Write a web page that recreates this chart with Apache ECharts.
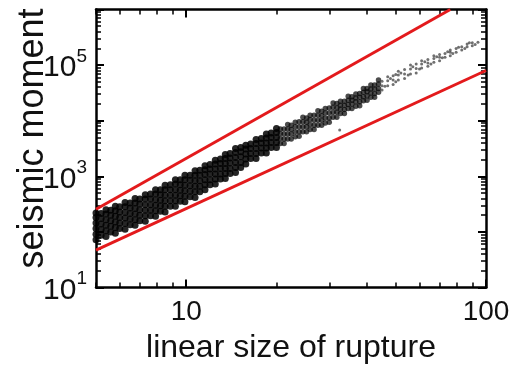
<!DOCTYPE html>
<html><head><meta charset="utf-8">
<script src="https://cdn.jsdelivr.net/npm/echarts@6/dist/echarts.min.js"></script>
<style>html,body{margin:0;padding:0;background:#fff}#c{width:522px;height:369px}</style>
</head><body><div id="c"></div>
<script>
const FONT = 'Liberation Sans, Arial, Helvetica, sans-serif';

// axis ticks and labels
const xMajorTicks = [10, 100];
const xMinorTicks = [5, 6, 7, 8, 9, 20, 30, 40, 50, 60, 70, 80, 90];
const xTickLabels = [10, 100];
const yMajorTicks = [10, 100, 1000, 10000, 100000, 1000000];
const yMinorTicks = [20, 30, 40, 50, 60, 70, 80, 90,
  200, 300, 400, 500, 600, 700, 800, 900,
  2000, 3000, 4000, 5000, 6000, 7000, 8000, 9000,
  20000, 30000, 40000, 50000, 60000, 70000, 80000, 90000,
  200000, 300000, 400000, 500000, 600000, 700000, 800000, 900000];
const yTickLabels = [10, 1000, 100000];

// red bounding lines [linear size, seismic moment]
const upperLine = [[5, 255], [76, 1000000]];
const lowerLine = [[5, 47], [100, 80000]];

// scatter cloud [linear size, seismic moment]
const denseCloud = [
[5.0,72],[5.0,91],[5.0,115],[5.0,145],[5.0,182],[5.0,219],
[5.2,87],[5.2,110],[5.2,138],[5.2,174],[5.2,214],
[5.4,83],[5.4,105],[5.4,132],[5.4,166],[5.4,209],[5.4,251],
[5.6,100],[5.6,126],[5.6,158],[5.6,200],[5.6,245],
[5.8,95],[5.8,120],[5.8,151],[5.8,191],[5.8,240],[5.8,288],
[6.0,115],[6.0,145],[6.0,182],[6.0,229],[6.0,282],
[6.25,112],[6.25,141],[6.25,178],[6.25,224],[6.25,282],[6.25,339],
[6.5,135],[6.5,170],[6.5,214],[6.5,269],[6.5,331],
[6.75,132],[6.75,166],[6.75,209],[6.75,263],[6.75,331],[6.75,398],
[7.0,158],[7.0,200],[7.0,251],[7.0,316],[7.0,389],
[7.3,155],[7.3,195],[7.3,245],[7.3,309],[7.3,389],[7.3,468],
[7.6,195],[7.6,245],[7.6,309],[7.6,389],[7.6,479],
[7.9,191],[7.9,240],[7.9,302],[7.9,380],[7.9,479],[7.9,575],
[8.2,234],[8.2,295],[8.2,372],[8.2,468],[8.2,575],
[8.5,229],[8.5,288],[8.5,363],[8.5,457],[8.5,575],[8.5,692],
[8.85,288],[8.85,363],[8.85,457],[8.85,575],[8.85,708],
[9.2,288],[9.2,363],[9.2,457],[9.2,575],[9.2,724],[9.2,871],
[9.55,355],[9.55,447],[9.55,562],[9.55,708],[9.55,871],
[9.9,347],[9.9,437],[9.9,550],[9.9,692],[9.9,871],[9.9,1047],
[10.3,427],[10.3,537],[10.3,676],[10.3,851],[10.3,1047],
[10.7,417],[10.7,525],[10.7,661],[10.7,832],[10.7,1047],[10.7,1259],
[11.1,525],[11.1,661],[11.1,832],[11.1,1047],[11.1,1288],
[11.55,575],[11.55,708],[11.55,871],[11.55,1072],[11.55,1318],[11.55,1549],
[12.0,708],[12.0,871],[12.0,1096],[12.0,1349],[12.0,1622],
[12.5,724],[12.5,891],[12.5,1096],[12.5,1349],[12.5,1660],[12.5,1950],
[13.0,891],[13.0,1096],[13.0,1380],[13.0,1698],[13.0,2042],
[13.5,912],[13.5,1122],[13.5,1380],[13.5,1698],[13.5,2089],[13.5,2455],
[14.0,1122],[14.0,1380],[14.0,1738],[14.0,2138],[14.0,2570],
[14.6,1175],[14.6,1445],[14.6,1778],[14.6,2188],[14.6,2692],[14.6,3162],
[15.2,1445],[15.2,1778],[15.2,2239],[15.2,2754],[15.2,3311],
[15.8,1660],[15.8,2042],[15.8,2512],[15.8,3090],[15.8,3631],
[16.4,2089],[16.4,2570],[16.4,3162],[16.4,3802],
[17.1,2089],[17.1,2570],[17.1,3162],[17.1,3890],[17.1,4571],
[17.8,2630],[17.8,3236],[17.8,3981],[17.8,4786],
[18.5,2630],[18.5,3236],[18.5,3981],[18.5,4898],[18.5,5754],
[19.2,3311],[19.2,4074],[19.2,5012],[19.2,6026],
[20.0,3311],[20.0,4074],[20.0,5012],[20.0,6166],[20.0,7244]
];
const midCloud = [
[20.6,3890],[20.6,4786],[20.6,5888],[20.6,7079],
[21.2,3890],[21.2,4677],[21.2,5754],[21.2,7079],
[21.8,4677],[21.8,5754],[21.8,7079],[21.8,8511],
[22.4,4677],[22.4,5754],[22.4,6918],[22.4,8318],
[23.1,5129],[23.1,6310],[23.1,7762],[23.1,9333],
[23.8,5248],[23.8,6310],[23.8,7762],[23.8,9550],
[24.5,6310],[24.5,7762],[24.5,9550],[24.5,11480],
[25.2,6310],[25.2,7762],[25.2,9333],[25.2,11220],
[25.9,6918],[25.9,8511],[25.9,10470],[25.9,12590],
[26.7,6918],[26.7,8318],[26.7,10230],[26.7,12590],
[27.5,8318],[27.5,10230],[27.5,12590],[27.5,15140],
[28.3,8318],[28.3,10230],[28.3,12300],[28.3,14790],
[29.1,9120],[29.1,11220],[29.1,13800],[29.1,16600],
[30.0,9333],[30.0,11220],[30.0,13800],[30.0,16980],
[30.9,11480],[30.9,14130],[30.9,17380],[30.9,20890],
[31.8,11480],[31.8,14130],[31.8,16980],[31.8,20420],
[32.7,13490],[32.7,16220],[32.7,19050],[32.7,22390],
[33.7,13490],[33.7,15850],[33.7,19050],[33.7,22390],
[34.7,16600],[34.7,19500],[34.7,23440],[34.7,27540],
[35.7,16600],[35.7,19950],[35.7,23440],[35.7,26920],
[36.8,18200],[36.8,21880],[36.8,25700],[36.8,30200],
[37.9,18620],[37.9,21880],[37.9,26300],[37.9,30900],
[39.0,22910],[39.0,26920],[39.0,32360],[39.0,38020],
[40.1,23440],[40.1,28180],[40.1,33110],[40.1,38020],
[41.3,26300],[41.3,31620],[41.3,37150],[41.3,43650],
[42.5,26300],[42.5,30900],[42.5,37150],[42.5,43650],
[43.8,32360],[43.8,38020],[43.8,45710],[43.8,53700]
];
const sparseCloud = [
[32.5,6800],
[45,35480],[45,42660],[45,51290],[46,41690],
[47,42660],[47,52480],[47,61660],[48,57540],
[49,44670],[49,53700],[49,64570],[50,50120],[50,67610],
[51,53700],[51,66070],[51,77620],[52,72440],
[53.5,57540],[53.5,69180],[53.5,83180],[55,66070],
[56,69180],[56,85110],[56,100000],[57,93330],
[58.5,72440],[58.5,87100],[58.5,104700],[60,85110],
[61,89130],[61,104700],[61,120200],[62.5,114800],
[64,95500],[64,109600],[64,125900],[65.5,104700],
[67,112200],[67,131800],[67,147900],[68.5,141300],
[70,120200],[70,138000],[70,154900],[71.5,134900],
[73,138000],[73,162200],[74.5,173800],
[76,147900],[76,169800],[76,186200],[77.5,162200],
[79.5,169800],[79.5,199500],[81,208900],
[83,186200],[83,213800],[85,199500],
[86.5,213800],[86.5,239900],[88,251200],
[90,223900],[90,251200],[92,234400],
[94,257000]
];

const chart = echarts.init(document.getElementById('c'), null, {renderer: 'canvas'});

function xAx(position, ticks, len, withLine, withLabels) {
  const a = {
    type: 'log', logBase: 10, min: 5, max: 100, position: position, gridIndex: 0,
    axisLine: {show: withLine, onZero: false, lineStyle: {color: '#000', width: 2.5}},
    axisTick: {show: true, inside: true, length: len, customValues: ticks,
      lineStyle: {color: '#000', width: len > 6 ? 2 : 1.5}},
    axisLabel: {show: false},
    splitLine: {show: false}, minorTick: {show: false}, minorSplitLine: {show: false}
  };
  if (withLabels) {
    a.axisLabel = {show: true, customValues: xTickLabels, margin: 11, color: '#111',
      fontFamily: FONT, fontSize: 28, formatter: v => String(Math.round(v))};
    a.name = 'linear size of rupture';
    a.nameLocation = 'middle';
    a.nameGap = 45;
    a.nameMoveOverlap = false;
    a.nameTextStyle = {fontFamily: FONT, fontSize: 32, color: '#111'};
  }
  return a;
}
function yAx(position, ticks, len, withLine, withLabels) {
  const a = {
    type: 'log', logBase: 10, min: 10, max: 1000000, position: position, gridIndex: 0,
    axisLine: {show: withLine, onZero: false, lineStyle: {color: '#000', width: 2.5}},
    axisTick: {show: true, inside: true, length: len, customValues: ticks,
      lineStyle: {color: '#000', width: len > 6 ? 2 : 1.5}},
    axisLabel: {show: false},
    splitLine: {show: false}, minorTick: {show: false}, minorSplitLine: {show: false}
  };
  if (withLabels) {
    a.axisLabel = {show: true, customValues: yTickLabels, margin: 9, color: '#111',
      fontFamily: FONT,
      formatter: v => '{b|10}{s|' + Math.round(Math.log10(v)) + '}',
      rich: {
        b: {fontFamily: FONT, fontSize: 30, color: '#111', verticalAlign: 'bottom'},
        s: {fontFamily: FONT, fontSize: 19, color: '#111', verticalAlign: 'bottom', padding: [0, 0, 17, 0]}
      }};
    a.name = 'seismic moment';
    a.nameLocation = 'middle';
    a.nameGap = 45;
    a.nameMoveOverlap = false;
    a.nameTextStyle = {fontFamily: FONT, fontSize: 36, color: '#111', padding: [0, 0, 0, 20]};
  }
  return a;
}

const option = {
  backgroundColor: '#fff',
  animation: false,
  grid: {left: 96, right: 36, top: 9.5, bottom: 81.5, containLabel: false, outerBoundsMode: 'none'},
  xAxis: [
    xAx('bottom', xMajorTicks, 8, true, true),
    xAx('bottom', xMinorTicks, 5, false, false),
    xAx('top', xMajorTicks, 8, true, false),
    xAx('top', xMinorTicks, 5, false, false)
  ],
  yAxis: [
    yAx('left', yMajorTicks, 8, true, true),
    yAx('left', yMinorTicks, 5, false, false),
    yAx('right', yMajorTicks, 8, true, false),
    yAx('right', yMinorTicks, 5, false, false)
  ],
  series: [
    {type: 'scatter', xAxisIndex: 0, yAxisIndex: 0, data: denseCloud, symbol: 'circle', symbolSize: 7,
      itemStyle: {color: '#000', opacity: 0.85}, silent: true},
    {type: 'scatter', xAxisIndex: 0, yAxisIndex: 0, data: midCloud, symbol: 'circle', symbolSize: 5.5,
      itemStyle: {color: '#000', opacity: 0.7}, silent: true},
    {type: 'scatter', xAxisIndex: 0, yAxisIndex: 0, data: sparseCloud, symbol: 'circle', symbolSize: 3,
      itemStyle: {color: '#333', opacity: 0.7}, silent: true},
    {type: 'line', xAxisIndex: 0, yAxisIndex: 0, data: upperLine, showSymbol: false, symbol: 'none',
      lineStyle: {color: '#e31a1c', width: 3}, silent: true},
    {type: 'line', xAxisIndex: 0, yAxisIndex: 0, data: lowerLine, showSymbol: false, symbol: 'none',
      lineStyle: {color: '#e31a1c', width: 3}, silent: true}
  ]
};
chart.setOption(option);
</script></body></html>
